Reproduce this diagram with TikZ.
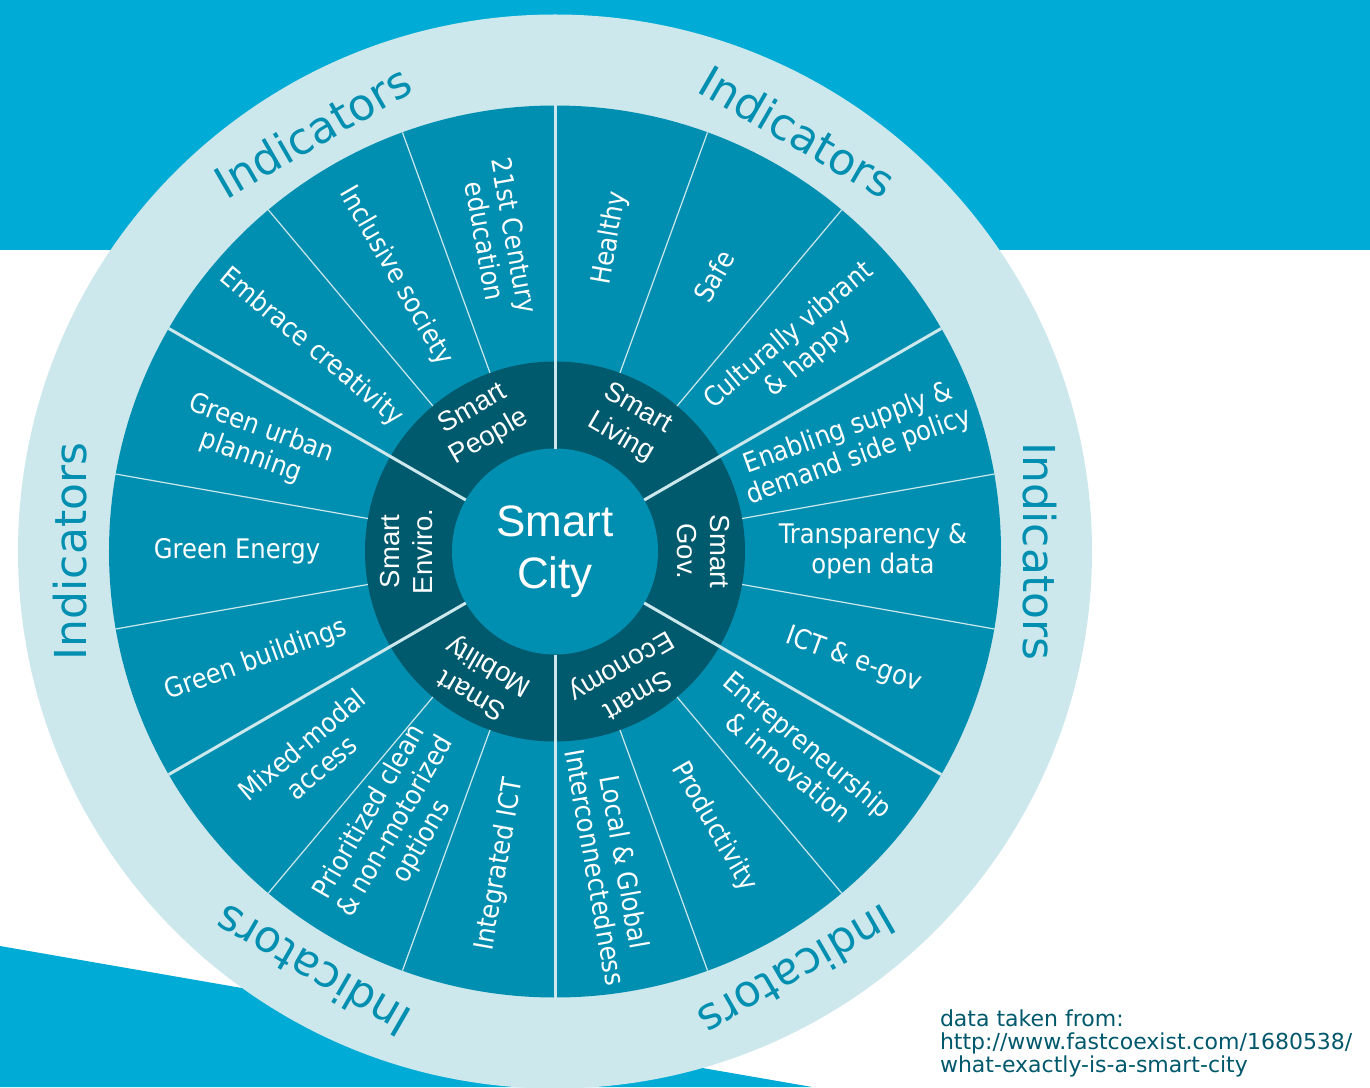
\documentclass[tikz,border=0pt]{standalone}
\usepackage{fontspec}
\newfontfamily\labelFont{DejaVu Sans Condensed}
\newfontfamily\hubFont{Liberation Sans}
\newfontfamily\ringFont{DejaVu Sans}
\newcommand{\outerRadius}{537pt}
\newcommand{\wheelRadius}{446pt}
\newcommand{\hubRadius}{190pt}
\newcommand{\cityRadius}{103pt}
\newcommand{\labelRadius}{318pt}
\newcommand{\hubLabelRadius}{148pt}
\newcommand{\indicatorRadius}{485pt}
\newcommand{\majorWidth}{3pt}
\newcommand{\minorWidth}{1.2pt}
\definecolor{bgBlue}{RGB}{0,172,214}
\definecolor{ringLight}{RGB}{205,232,236}
\definecolor{segTeal}{RGB}{0,143,176}
\definecolor{hubDark}{RGB}{0,90,110}
\definecolor{noteColor}{RGB}{0,88,108}
\tikzstyle{divider}=[draw=ringLight, line cap=butt]
\tikzstyle{majorDivider}=[divider, line width=\majorWidth]
\tikzstyle{minorDivider}=[divider, line width=\minorWidth]
\tikzstyle{textNode}=[draw=none, inner sep=0, outer sep=0, align=center, text=white]
\tikzstyle{segLabel}=[textNode, font=\labelFont\fontsize{27}{30}\selectfont]
\tikzstyle{hubLabel}=[textNode, font=\hubFont\fontsize{27.5}{33}\selectfont]
\tikzstyle{indicator}=[textNode, text=segTeal, font=\ringFont\fontsize{44}{44}\selectfont]

\begin{document}
\begin{tikzpicture}[x=1pt, y=1pt]

% Frame
\useasboundingbox (-555,-535.5) rectangle (815,551.5);
\fill[white] (-555,-535.5) rectangle (815,551.5);
\coordinate (center) at (0,0);

% Background bands
\fill[bgBlue] (-555,551.5) rectangle (815,301.5);
\fill[bgBlue] (-555,-394.5) -- (257,-535.5) -- (-555,-535.5) -- cycle;

% Rings
\fill[ringLight] (center) circle[radius=\outerRadius];
\fill[segTeal] (center) circle[radius=\wheelRadius];
\fill[hubDark] (center) circle[radius=\hubRadius];
\fill[segTeal] (center) circle[radius=\cityRadius];

% Dividers
\foreach \a in {0,60,...,300} {
  \draw[majorDivider] (\a+30:\cityRadius) -- (\a+30:\wheelRadius);
  \draw[minorDivider] (\a-10:\hubRadius) -- (\a-10:\wheelRadius);
  \draw[minorDivider] (\a+10:\hubRadius) -- (\a+10:\wheelRadius);
  }

% Centre
\node[textNode, font=\hubFont\fontsize{44}{52}\selectfont] (city) at (center) {Smart\\City};

% Hub labels
\foreach \a/\txt in {0/{Smart\\Gov.}, 60/{Smart\\Living}, 120/{Smart\\People},
    180/{Smart\\Enviro.}, 240/{Smart\\Mobility}, 300/{Smart\\Economy}} {
  \node[hubLabel, rotate=\a-90] (hub-\a) at (\a:\hubLabelRadius) {\txt};
  }

% Segment labels
\foreach \a/\txt in {
    100/{21st Century\\education}, 120/{Inclusive society}, 140/{Embrace creativity},
    160/{Green urban\\planning}, 180/{Green Energy}, 200/{Green buildings},
    220/{Mixed-modal\\access}, 240/{Prioritized clean\\\& non-motorized\\options}, 260/{Integrated ICT},
    280/{Local \& Global\\Interconnectedness}, 300/{Productivity}, 320/{Entrepreneurship\\\& innovation},
    340/{ICT \& e-gov}, 0/{Transparency \&\\open data}, 20/{Enabling supply \&\\demand side policy},
    40/{Culturally vibrant\\\& happy}, 60/{Safe}, 80/{Healthy}} {
  \pgfmathsetmacro{\rot}{(\a>90 && \a<270) ? \a-180 : \a}
  \node[segLabel, rotate=\rot] (seg-\a) at (\a:\labelRadius) {\txt};
  }

% Indicators
\foreach \a in {0,60,...,300} {
  \node[indicator, rotate=\a-90] (ind-\a) at (\a:\indicatorRadius) {Indicators};
  }

% Source note
\node[textNode, anchor=north west, align=left, text=noteColor,
  font=\ringFont\fontsize{22}{23}\selectfont] (source) at (385,-458) {data taken from:\\http://www.fastcoexist.com/1680538/\\what-exactly-is-a-smart-city};

\end{tikzpicture}
\end{document}
